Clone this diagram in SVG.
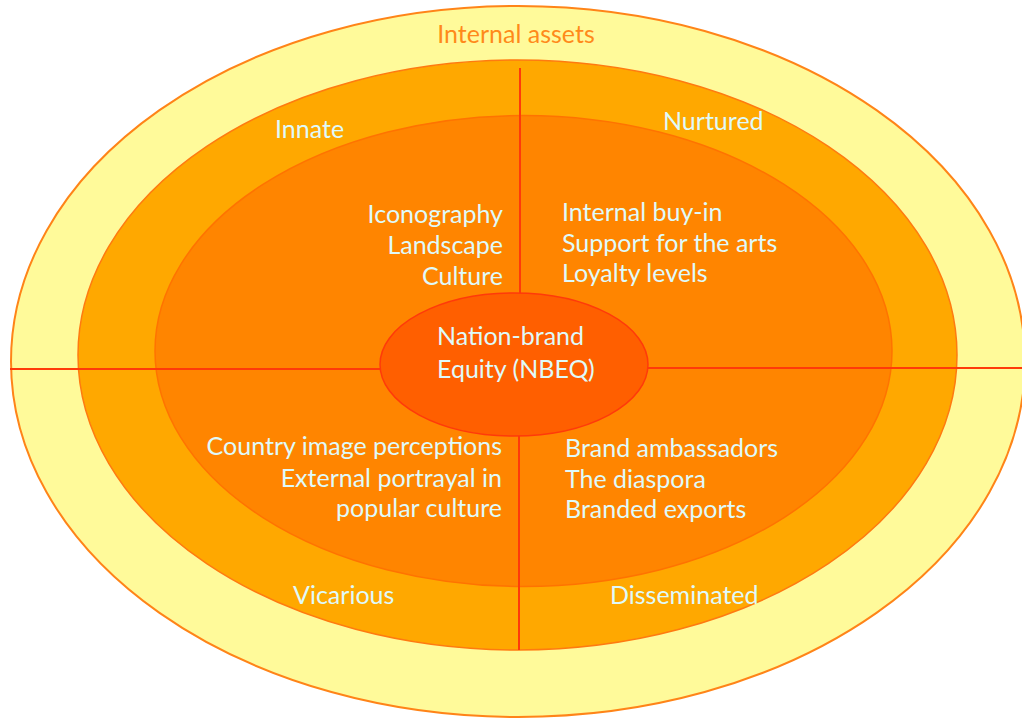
<svg xmlns="http://www.w3.org/2000/svg" width="1022" height="720" viewBox="0 0 1022 720">
<style>
.t{font-family:Lato,"Open Sans","Liberation Sans",sans-serif;font-size:25px;fill:#DFFAFA}
.r{text-anchor:end}
.ln{stroke:#FF3A0A;stroke-width:2;fill:none}
</style>
<rect width="1022" height="720" fill="#FFFFFF"/>
<g id="ring-outer">
<ellipse cx="518" cy="361.5" rx="507" ry="355.5" fill="#FFFA9A" stroke="#FF8418" stroke-width="2"/>
<text class="t" x="516" y="43" text-anchor="middle" style="fill:#FF8A1A">Internal assets</text>
</g>
<g id="ring-middle">
<ellipse cx="517.5" cy="355" rx="439.5" ry="295" fill="#FFA800" stroke="#FF7A10" stroke-width="1.5"/>
</g>
<g id="ring-inner">
<ellipse cx="523.5" cy="351" rx="368.5" ry="235.5" fill="#FF8500" stroke="#FF7300" stroke-width="1.5"/>
</g>
<g id="connectors">
<line class="ln" x1="10" y1="369" x2="380" y2="369"/>
<line class="ln" x1="648" y1="368" x2="1022" y2="368"/>
<line class="ln" x1="520" y1="68" x2="520" y2="294"/>
<line class="ln" x1="519" y1="436" x2="519" y2="650"/>
</g>
<g id="center">
<ellipse cx="514" cy="364.5" rx="134" ry="71.5" fill="#FF5F00" stroke="#FF3A0A" stroke-width="1.5"/>
<text class="t" x="437" y="345">Nation-brand</text>
<text class="t" x="437" y="378">Equity (NBEQ)</text>
</g>
<g id="innate">
<text class="t" x="275" y="138">Innate</text>
<text class="t r" x="503" y="223">Iconography</text>
<text class="t r" x="503" y="254">Landscape</text>
<text class="t r" x="503" y="285">Culture</text>
</g>
<g id="nurtured">
<text class="t" x="663" y="130">Nurtured</text>
<text class="t" x="562" y="221">Internal buy-in</text>
<text class="t" x="562" y="252">Support for the arts</text>
<text class="t" x="562" y="282">Loyalty levels</text>
</g>
<g id="vicarious">
<text class="t" x="293" y="604">Vicarious</text>
<text class="t r" x="502" y="455">Country image perceptions</text>
<text class="t r" x="502" y="487">External portrayal in</text>
<text class="t r" x="502" y="517">popular culture</text>
</g>
<g id="disseminated">
<text class="t" x="610" y="604">Disseminated</text>
<text class="t" x="565" y="457">Brand ambassadors</text>
<text class="t" x="565" y="488">The diaspora</text>
<text class="t" x="565" y="518">Branded exports</text>
</g>
</svg>
